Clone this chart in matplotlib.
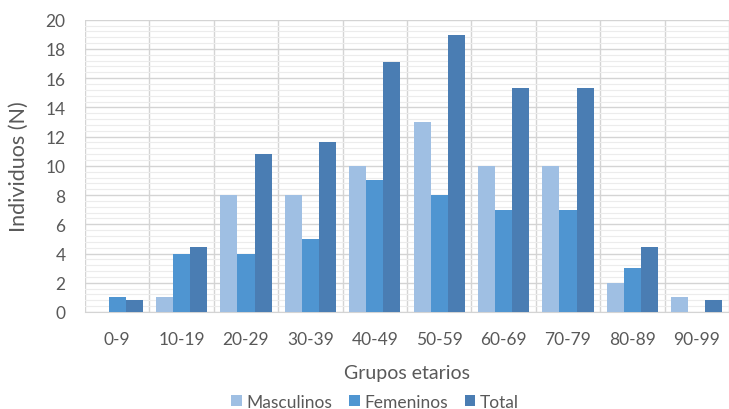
import matplotlib
matplotlib.use("Agg")
import matplotlib.pyplot as plt
import numpy as np
from matplotlib.ticker import MultipleLocator, FixedLocator

categories = ["0-9", "10-19", "20-29", "30-39", "40-49", "50-59", "60-69", "70-79", "80-89", "90-99"]
masculinos = [0, 1, 8, 8, 10, 13, 10, 10, 2, 1]
femeninos = [1, 4, 4, 5, 9, 8, 7, 7, 3, 0]
total = [0.85, 4.45, 10.8, 11.65, 17.1, 18.95, 15.3, 15.3, 4.45, 0.85]
yticks = list(range(0, 21, 2))

plt.rcParams['font.family'] = ['Lato', 'DejaVu Sans']
txt = "#595959"

fig = plt.figure(figsize=(7.29, 4.10), dpi=100)
ax = fig.add_axes([85/729, 97/410, 1 - 85/729, (313-20.7)/410])

x = np.arange(len(categories))
w = 0.264
ax.bar(x - w, masculinos, w, color="#9fbfe3", label="Masculinos", zorder=3)
ax.bar(x, femeninos, w, color="#4f95d1", label="Femeninos", zorder=3)
ax.bar(x + w, total, w, color="#4a7db3", label="Total", zorder=3)

ax.set_xlim(-0.5, len(categories) - 0.5)
ax.set_ylim(0, 20)
ax.set_xticks(x)
ax.set_xticklabels(categories)
ax.set_yticks(yticks)
ax.yaxis.set_minor_locator(MultipleLocator(0.4))
ax.xaxis.set_minor_locator(FixedLocator(np.arange(-0.5, len(categories), 1.0)))
ax.grid(axis='y', which='major', color="#d4d4d4", lw=1.0, zorder=0)
ax.grid(axis='y', which='minor', color="#ececec", lw=0.8, zorder=0)
ax.grid(axis='x', which='minor', color="#d4d4d4", lw=1.0, zorder=0)
ax.grid(axis='x', which='major', visible=False)
for s in ['top', 'right', 'left']:
    ax.spines[s].set_visible(False)
ax.spines['bottom'].set_color("#d4d4d4")
ax.tick_params(axis='both', which='both', length=0, colors=txt, labelsize=12.5)
ax.tick_params(axis='x', pad=14)
ax.tick_params(axis='y', pad=14)

ax.set_xlabel("Grupos etarios", fontsize=14, color=txt, labelpad=12)
ax.set_ylabel("Individuos (N)", fontsize=15.5, color=txt, labelpad=12)

leg = fig.legend(loc='lower center', bbox_to_anchor=(375/729, -0.04), ncol=3, frameon=False,
                 fontsize=12.5, handlelength=0.6, handleheight=0.6, handletextpad=0.25,
                 columnspacing=1.0)
for t in leg.get_texts():
    t.set_color(txt)

fig.savefig("out.png", dpi=100)
